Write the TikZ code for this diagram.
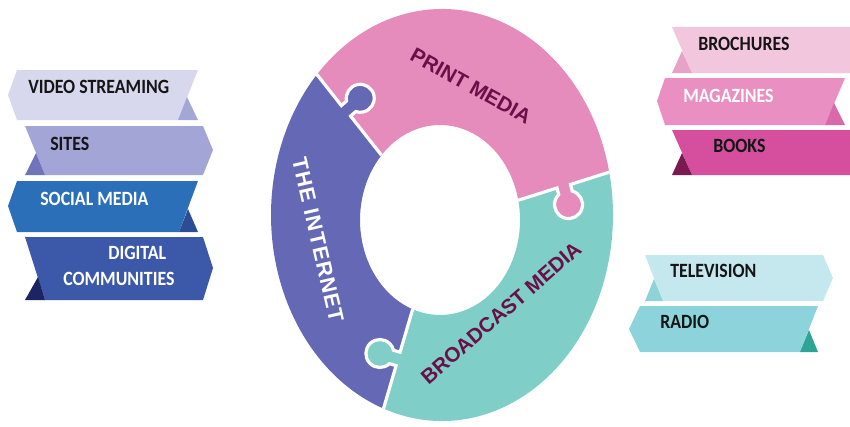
\documentclass[tikz,border=0pt]{standalone}
\usepackage{fontspec}
\setmainfont{Carlito}
\newfontfamily\ribfont[FakeStretch=0.88]{Carlito}
\newfontfamily\ringfont{Liberation Sans}
\usetikzlibrary{calc}
\definecolor{inetc}{HTML}{6568B4}
\definecolor{printc}{HTML}{E58CBD}
\definecolor{tealc}{HTML}{7FCEC8}
\definecolor{darkt}{HTML}{6A1049}
\definecolor{txt}{HTML}{151515}
\definecolor{ca}{HTML}{D7D8EE}\definecolor{cad}{HTML}{A4A6D6}
\definecolor{cb}{HTML}{A3A5D6}\definecolor{cbd}{HTML}{7174BA}
\definecolor{cc}{HTML}{2A6FB8}\definecolor{ccd}{HTML}{2C4D94}
\definecolor{cd}{HTML}{3C58A8}\definecolor{cdd}{HTML}{1C2563}
\definecolor{pa}{HTML}{F2C6DD}\definecolor{pad}{HTML}{E7A2C8}
\definecolor{pb}{HTML}{EA8FC1}\definecolor{pbd}{HTML}{D86AAA}
\definecolor{pc}{HTML}{D54F9E}\definecolor{pcd}{HTML}{7A1A51}
\definecolor{ta}{HTML}{C5E7EE}\definecolor{tad}{HTML}{8FD3D9}
\definecolor{tb}{HTML}{8CD3DC}\definecolor{tbd}{HTML}{2FA394}
\newcommand\pzknob[5]{%
  \begin{scope}[shift={($(#2)!#4!(#3)$)}, rotate=#5]
    \fill[#1] (-7,-2) -- (-7,6.88) arc[start angle=240,end angle=-60,radius=14] -- (7,-2) -- cycle;
    \draw[gapline] (#2) -- (-7,0) -- (-7,6.88) arc[start angle=240,end angle=-60,radius=14] -- (7,0) -- (#3);
  \end{scope}}
\begin{document}
\begin{tikzpicture}[x=0.75pt,y=0.75pt,
  lbl/.style={font=\ribfont\fontsize{15.2}{17}\selectfont\bfseries, anchor=base west, inner sep=0pt, text=txt},
  ringlbl/.style={font=\ringfont\fontsize{15.5}{18}\selectfont\bfseries, inner sep=0pt},
  gapline/.style={draw=white, line width=2.4pt}]
\useasboundingbox (0,0) rectangle (850,426);
% ---- ring ----
\coordinate (C) at (442,211);
\coordinate (Ci) at (440,206);
\coordinate (O1) at ($(C)+(137:171 and 206)$);
\coordinate (I1) at ($(Ci)+(137:80 and 95)$);
\coordinate (O2) at ($(C)+(12:171 and 206)$);
\coordinate (I2) at ($(Ci)+(12:80 and 95)$);
\coordinate (O3) at ($(C)+(250:171 and 206)$);
\coordinate (I3) at ($(Ci)+(250:80 and 95)$);
\fill[printc] (O2) arc[start angle=12,end angle=137,x radius=171,y radius=206] -- (I1) arc[start angle=137,end angle=12,x radius=80,y radius=95] -- cycle;
\fill[inetc] (O1) arc[start angle=137,end angle=250,x radius=171,y radius=206] -- (I3) arc[start angle=250,end angle=137,x radius=80,y radius=95] -- cycle;
\fill[tealc] (O3) arc[start angle=250,end angle=372,x radius=171,y radius=206] -- (I2) arc[start angle=372,end angle=250,x radius=80,y radius=95] -- cycle;
\pzknob{inetc}{O1}{I1}{0.45}{-48.7}
\pzknob{printc}{O2}{I2}{0.5}{194.5}
\pzknob{tealc}{O3}{I3}{0.5}{73.4}
\node[ringlbl, text=darkt, rotate=-29] (pm) at (471,340) {PRINT MEDIA};
\node[ringlbl, text=darkt, rotate=41] (bm) at (501,113) {BROADCAST MEDIA};
\node[ringlbl, text=white, rotate=-77, font=\ringfont\addfontfeatures{LetterSpace=6}\fontsize{16}{18}\selectfont\bfseries] (ti) at (318,186) {THE INTERNET};
% ---- ribbons (pixel coordinates, y down) ----
\begin{scope}[shift={(0,426)}, yscale=-1]
  \fill[ca] (17,70) -- (198,70) -- (178,120) -- (17,120) -- (8,95) -- cycle;
  \fill[cad] (187,97) -- (198,120) -- (178,120) -- cycle;
  \node[lbl] (vs) at (28,93) {VIDEO STREAMING};
  \fill[cb] (25,126) -- (203,126) -- (213,150) -- (203,175) -- (45,175) -- cycle;
  \fill[cbd] (36,153) -- (45,175) -- (25,175) -- cycle;
  \node[lbl] (si) at (50,150) {SITES};
  \fill[cc] (17,181) -- (198,181) -- (179,232) -- (17,232) -- (8,206) -- cycle;
  \fill[ccd] (188,209) -- (198,232) -- (179,232) -- cycle;
  \node[lbl, text=white] (sm) at (40,205) {SOCIAL MEDIA};
  \fill[cd] (25,237) -- (203,237) -- (213,268) -- (203,300) -- (45,300) -- cycle;
  \fill[cdd] (38,277) -- (45,300) -- (25,300) -- cycle;
  \node[lbl, text=white] (dg) at (108,259) {DIGITAL};
  \node[lbl, text=white] (co) at (63,285) {COMMUNITIES};
  \fill[pa] (672,27) -- (852,27) -- (852,73) -- (692,73) -- cycle;
  \fill[pad] (682,51) -- (692,73) -- (672,73) -- cycle;
  \node[lbl] (br) at (698,51) {BROCHURES};
  \fill[pb] (665,78) -- (845,78) -- (825,125) -- (665,125) -- (657,101) -- cycle;
  \fill[pbd] (834,103) -- (845,125) -- (825,125) -- cycle;
  \node[lbl, text=white] (mg) at (683,102) {MAGAZINES};
  \fill[pc] (672,130) -- (852,130) -- (852,175) -- (692,175) -- cycle;
  \fill[pcd] (682,153) -- (692,175) -- (672,175) -- cycle;
  \node[lbl] (bk) at (713,152) {BOOKS};
  \fill[ta] (645,255) -- (823,255) -- (833,278) -- (823,301) -- (663,301) -- cycle;
  \fill[tad] (654,279) -- (663,301) -- (645,301) -- cycle;
  \node[lbl] (tv) at (670,277) {TELEVISION};
  \fill[tb] (640,306) -- (818,306) -- (800,352) -- (640,352) -- (629,329) -- cycle;
  \fill[tbd] (809,330) -- (818,352) -- (800,352) -- cycle;
  \node[lbl] (rd) at (660,328) {RADIO};
\end{scope}
\end{tikzpicture}
\end{document}
